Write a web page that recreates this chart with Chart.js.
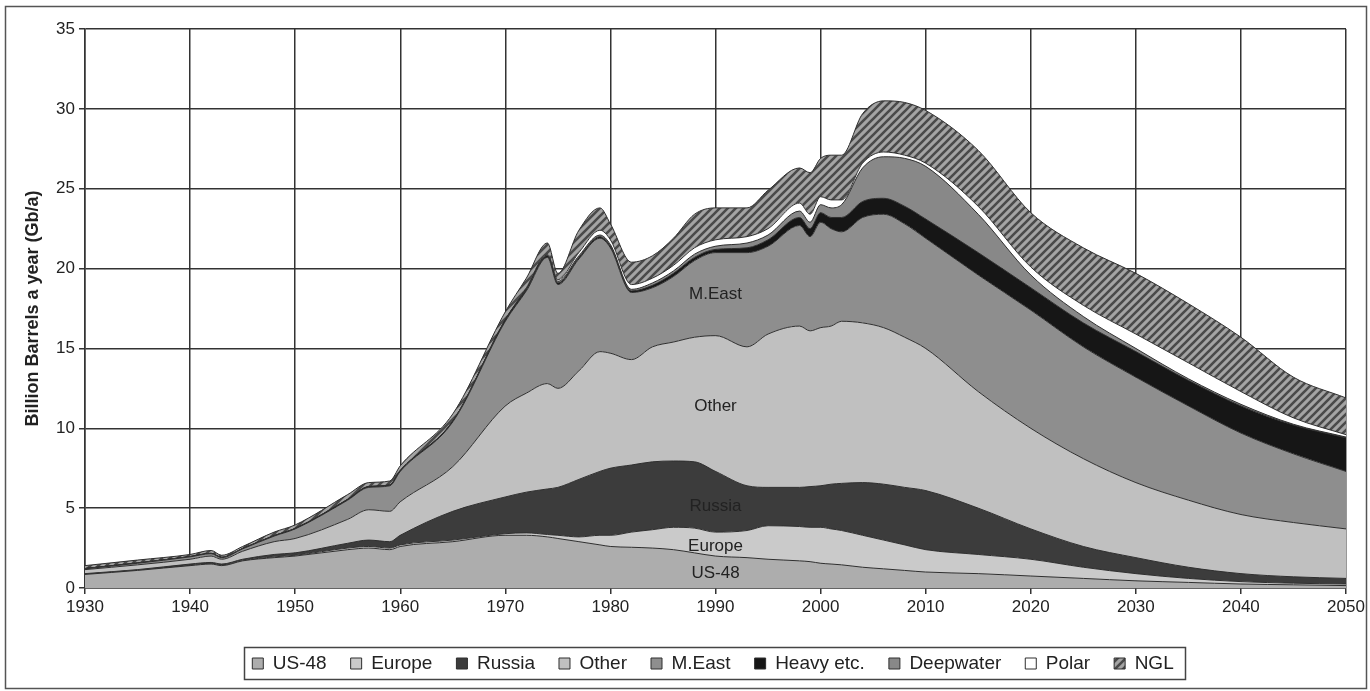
<!DOCTYPE html>
<html>
<head>
<meta charset="utf-8">
<script src="https://cdn.jsdelivr.net/npm/chart.js@4.4.0/dist/chart.umd.min.js"></script>
<style>
  html, body { margin: 0; padding: 0; background: #fff; }
</style>
</head>
<body>
<canvas id="oilChart" width="1370" height="691"></canvas>
<script>
// production in Gb/a, each series is its own layer of the stack
const years = [1930, 1935, 1940, 1942, 1943, 1945, 1948, 1950, 1955, 1957, 1959, 1960, 1965,
    1970, 1972, 1974, 1975, 1977, 1979, 1980, 1982, 1984, 1986, 1988, 1990, 1993, 1995, 1998,
    1999, 2000, 2001, 2002, 2004, 2006, 2008, 2010, 2015, 2020, 2025, 2030, 2035, 2040, 2045, 2050];

const us48 = [0.85, 1.1, 1.4, 1.5, 1.4, 1.7, 1.9, 2.0, 2.4, 2.5, 2.4, 2.6, 2.9,
    3.3, 3.3, 3.2, 3.1, 2.9, 2.7, 2.6, 2.55, 2.5, 2.4, 2.2, 2.0, 1.9, 1.8, 1.7,
    1.65, 1.55, 1.5, 1.45, 1.3, 1.2, 1.1, 1.0, 0.9, 0.75, 0.6, 0.45, 0.35, 0.25, 0.2, 0.15];
const europe = [0.02, 0.02, 0.02, 0.02, 0.02, 0.02, 0.05, 0.05, 0.1, 0.1, 0.1, 0.1, 0.1,
    0.1, 0.15, 0.15, 0.2, 0.3, 0.6, 0.7, 0.95, 1.15, 1.4, 1.55, 1.5, 1.7, 2.1, 2.15,
    2.15, 2.25, 2.2, 2.15, 2.0, 1.8, 1.6, 1.4, 1.2, 1.05, 0.7, 0.45, 0.25, 0.15, 0.1, 0.1];
const russia = [0.03, 0.03, 0.08, 0.08, 0.08, 0.08, 0.15, 0.15, 0.3, 0.4, 0.4, 0.6, 1.8,
    2.3, 2.55, 2.85, 3.0, 3.6, 4.0, 4.2, 4.2, 4.25, 4.15, 4.15, 3.8, 2.8, 2.4, 2.45,
    2.55, 2.6, 2.8, 2.95, 3.3, 3.5, 3.6, 3.7, 2.9, 1.9, 1.3, 1.0, 0.7, 0.5, 0.4, 0.35];
const other = [0.25, 0.3, 0.3, 0.4, 0.3, 0.5, 0.8, 0.9, 1.5, 1.9, 1.9, 2.1, 2.8,
    5.7, 6.2, 6.6, 6.2, 6.8, 7.5, 7.2, 6.6, 7.2, 7.45, 7.8, 8.5, 8.7, 9.6, 10.1,
    9.75, 9.9, 9.9, 10.15, 10.0, 9.8, 9.4, 8.9, 7.3, 6.3, 5.5, 4.7, 4.2, 3.7, 3.4, 3.1];
const mEast = [0.05, 0.1, 0.15, 0.15, 0.1, 0.15, 0.35, 0.6, 1.2, 1.4, 1.6, 1.9, 2.8,
    5.3, 6.4, 7.9, 6.5, 7.0, 7.1, 6.6, 4.2, 3.7, 4.1, 4.8, 5.2, 5.9, 5.5, 6.3,
    5.9, 6.6, 6.1, 5.6, 6.6, 7.1, 7.1, 6.9, 7.3, 7.4, 7.0, 6.6, 5.9, 5.1, 4.3, 3.6];
const heavy = [0.02, 0.02, 0.02, 0.02, 0.02, 0.02, 0.03, 0.03, 0.05, 0.05, 0.05, 0.05, 0.05,
    0.1, 0.1, 0.1, 0.1, 0.1, 0.1, 0.1, 0.1, 0.15, 0.2, 0.2, 0.2, 0.3, 0.4, 0.5,
    0.5, 0.6, 0.7, 0.9, 1.0, 1.0, 1.1, 1.2, 1.4, 1.4, 1.5, 1.6, 1.6, 1.7, 1.8, 2.1];
const deepwater = [0, 0, 0, 0, 0, 0, 0, 0, 0, 0, 0, 0, 0,
    0, 0.05, 0.05, 0.1, 0.1, 0.1, 0.1, 0.1, 0.15, 0.15, 0.2, 0.2, 0.3, 0.3, 0.4,
    0.4, 0.5, 0.6, 0.8, 2.1, 2.6, 3.0, 3.3, 2.4, 0.8, 0.4, 0.2, 0.1, 0.1, 0.05, 0.05];
const polar = [0, 0, 0, 0, 0, 0, 0, 0, 0, 0, 0, 0, 0,
    0, 0.05, 0.05, 0.1, 0.2, 0.3, 0.3, 0.3, 0.3, 0.35, 0.4, 0.4, 0.4, 0.4, 0.5,
    0.5, 0.5, 0.5, 0.3, 0.3, 0.3, 0.2, 0.2, 0.5, 0.5, 0.7, 0.9, 1.0, 0.8, 0.4, 0.15];
const ngl = [0.18, 0.18, 0.13, 0.18, 0.13, 0.13, 0.22, 0.22, 0.3, 0.25, 0.25, 0.3, 0.45,
    0.5, 0.6, 0.7, 0.4, 1.4, 1.4, 1.0, 1.4, 1.4, 1.7, 2.1, 2.0, 1.8, 2.4, 2.2,
    2.6, 2.4, 2.8, 2.8, 3.1, 3.2, 3.3, 3.3, 3.5, 3.4, 3.6, 3.8, 3.7, 3.4, 2.55, 2.3];

const seriesNames = ['US-48', 'Europe', 'Russia', 'Other', 'M.East', 'Heavy etc.', 'Deepwater', 'Polar', 'NGL'];
const seriesData = [us48, europe, russia, other, mEast, heavy, deepwater, polar, ngl];

// text written inside the areas
const areaLabels = [
    { text: 'M.East', x: 1990, y: 18.4 },
    { text: 'Other', x: 1990, y: 11.4 },
    { text: 'Russia', x: 1990, y: 5.1 },
    { text: 'Europe', x: 1990, y: 2.6 },
    { text: 'US-48', x: 1990, y: 0.95 }
];

const fontFamily = '"Liberation Sans", Arial, sans-serif';
const legendShift = 40;   // legend sits a bit right of the canvas centre

function hatchPattern() {
    const c = document.createElement('canvas');
    c.width = 8;
    c.height = 8;
    const g = c.getContext('2d');
    g.fillStyle = '#a4a4a4';
    g.fillRect(0, 0, 8, 8);
    g.strokeStyle = '#4a4a4a';
    g.lineWidth = 2.6;
    g.beginPath();
    g.moveTo(-2, 10); g.lineTo(10, -2);
    g.moveTo(-6, 6); g.lineTo(6, -6);
    g.moveTo(2, 14); g.lineTo(14, 2);
    g.stroke();
    return g.createPattern(c, 'repeat');
}

const fills = ['#adadad', '#cacaca', '#3c3c3c', '#c0c0c0', '#8e8e8e', '#161616', '#888888', '#ffffff', hatchPattern()];

const datasets = seriesNames.map((name, i) => ({
    label: name,
    data: years.map((yr, k) => ({ x: yr, y: seriesData[i][k] })),
    backgroundColor: fills[i],
    borderColor: '#2e2e2e',
    borderWidth: 1,
    pointRadius: 0,
    cubicInterpolationMode: 'monotone',
    fill: i === 0 ? 'origin' : '-1'
}));

const framePlugin = {
    id: 'frames',
    afterLayout(chart) {
        chart.legend.left += legendShift;
        chart.legend.right += legendShift;
    },
    afterDraw(chart) {
        const ctx = chart.ctx;
        const xs = chart.scales.x, ys = chart.scales.y;
        ctx.save();
        // outer border
        ctx.strokeStyle = '#555';
        ctx.lineWidth = 1.5;
        ctx.strokeRect(5.5, 6.5, 1361, 682);
        // labels inside areas
        ctx.font = '17px ' + fontFamily;
        ctx.fillStyle = '#222';
        ctx.textAlign = 'center';
        ctx.textBaseline = 'middle';
        areaLabels.forEach(l => {
            ctx.fillText(l.text, xs.getPixelForValue(l.x), ys.getPixelForValue(l.y));
        });
        // box round the legend
        const boxes = chart.legend.legendHitBoxes;
        if (boxes && boxes.length) {
            const left = Math.min(...boxes.map(b => b.left));
            const right = Math.max(...boxes.map(b => b.left + b.width));
            const top = Math.min(...boxes.map(b => b.top));
            const bottom = Math.max(...boxes.map(b => b.top + b.height));
            ctx.strokeStyle = '#444';
            ctx.lineWidth = 1.5;
            ctx.strokeRect(Math.round(left - 8) + 0.5, Math.round(top - 7) + 0.5,
                Math.round(right - left + 20), Math.round(bottom - top + 13));
        }
        ctx.restore();
    }
};

const ctx = document.getElementById('oilChart');
new Chart(ctx, {
    type: 'line',
    data: { datasets: datasets },
    plugins: [framePlugin],
    options: {
        responsive: false,
        animation: false,
        events: [],
        layout: { padding: { top: 29, right: 24, bottom: 8, left: 0 } },
        plugins: {
            tooltip: { enabled: false },
            legend: {
                position: 'bottom',
                labels: {
                    color: '#222',
                    font: { family: fontFamily, size: 19 },
                    boxWidth: 11,
                    boxHeight: 11,
                    padding: 24
                }
            }
        },
        scales: {
            x: {
                type: 'linear',
                min: 1930,
                max: 2050,
                ticks: {
                    stepSize: 10,
                    color: '#222',
                    font: { family: fontFamily, size: 17 },
                    padding: 3,
                    maxRotation: 0,
                    callback: v => String(v)
                },
                grid: { color: '#333', lineWidth: 1.5, tickLength: 6 },
                border: { color: '#333', width: 1.5 },
                afterFit: scale => { scale.height = 42; }
            },
            y: {
                stacked: true,
                min: 0,
                max: 35,
                ticks: {
                    stepSize: 5,
                    color: '#222',
                    font: { family: fontFamily, size: 17 },
                    padding: 4
                },
                grid: { color: '#333', lineWidth: 1.5, tickLength: 6 },
                border: { color: '#333', width: 1.5 },
                title: {
                    display: true,
                    text: 'Billion Barrels a year (Gb/a)',
                    color: '#222',
                    font: { family: fontFamily, size: 18, weight: 'bold' },
                    padding: { top: 22, bottom: 0 }
                },
                afterFit: scale => { scale.width = 85; }
            }
        }
    }
});
</script>
</body>
</html>
